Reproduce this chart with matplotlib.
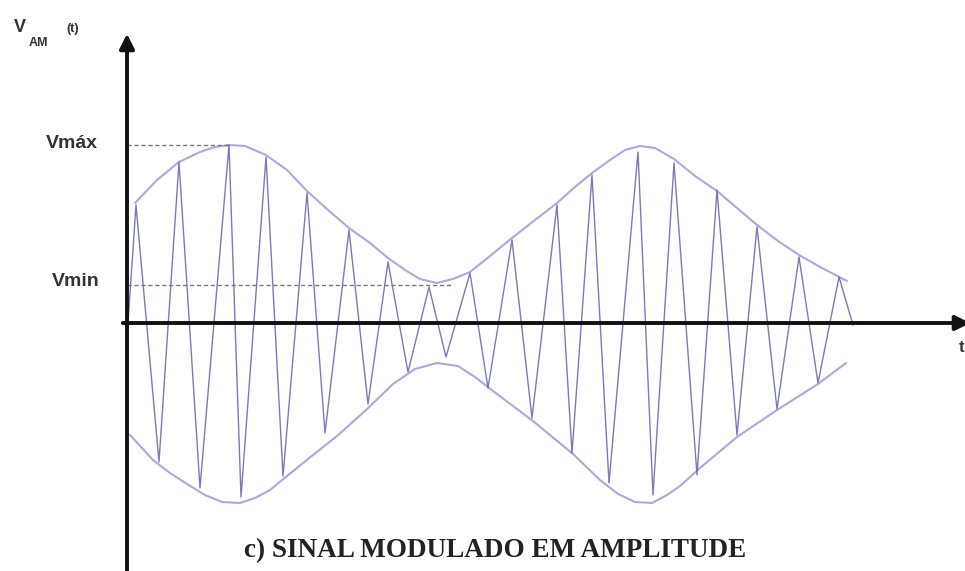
import numpy as np
import matplotlib.pyplot as plt

# Vértices da portadora (t, v); origem no cruzamento dos eixos
t_portadora = [1, 9, 32, 52, 73, 102, 114, 139, 156, 180, 198, 222, 241, 261, 281,
               302, 319, 343, 361, 385, 405, 430, 445, 465, 482, 511, 526, 547, 570,
               590, 610, 630, 650, 672, 691, 712, 726]
v_portadora = [0, 118, -139, 161, -165, 178, -174, 166, -153, 130, -110, 93, -81, 61, -49,
               36, -34, 50, -65, 83, -95, 118, -130, 148, -160, 171, -172, 160, -152,
               133, -112, 96, -86, 66, -60, 46, -2]

# Envoltória superior
t_env_sup = [8, 30, 52, 73, 88, 102, 118, 139, 160, 180, 201, 222, 243, 261, 278, 293,
             310, 326, 343, 363, 385, 408, 430, 448, 465, 483, 498, 513, 528, 547, 568,
             590, 610, 630, 651, 672, 695, 720]
v_env_sup = [120, 143, 161, 171, 176, 178, 177, 168, 153, 132, 113, 95, 80, 65, 53, 44,
             40, 44, 51, 67, 85, 103, 120, 136, 150, 163, 173, 177, 175, 164, 147,
             132, 115, 98, 82, 68, 55, 42]

# Envoltória inferior
t_env_inf = [3, 26, 43, 60, 78, 95, 113, 128, 143, 176, 210, 238, 266, 288, 310, 331,
             348, 366, 406, 446, 473, 491, 508, 525, 540, 553, 573, 610, 650, 691, 719]
v_env_inf = [-112, -137, -150, -161, -172, -179, -180, -175, -167, -140, -113, -88, -61,
             -46, -40, -43, -54, -68, -98, -131, -157, -171, -179, -180, -172, -163,
             -145, -114, -87, -61, -40]

# Níveis marcados
v_max = 178
v_min = 38
t_fim_vmax = 102
t_fim_vmin = 325

fig = plt.figure(figsize=(9.65, 5.71), dpi=100)
ax = fig.add_axes([0, 0, 1, 1])
ax.set_xlim(-127, 838)
ax.set_ylim(-248, 323)
ax.axis('off')

cor_portadora = '#6b6bb5'
cor_env = '#a9a9e6'

# Envoltórias
ax.plot(t_env_sup, v_env_sup, color=cor_env, lw=1.5, solid_capstyle='round')
ax.plot(t_env_inf, v_env_inf, color=cor_env, lw=1.5, solid_capstyle='round')

# Portadora modulada
ax.plot(t_portadora, v_portadora, color=cor_portadora, lw=1.0, alpha=0.9)

# Linhas tracejadas de Vmáx e Vmin
ax.plot([0, t_fim_vmax], [v_max, v_max], color='#777777', lw=1.0, ls=(0, (3, 2)))
ax.plot([0, t_fim_vmin], [v_min, v_min], color='#777777', lw=1.0, ls=(0, (3, 2)))

# Eixos com setas
ax.annotate('', xy=(0, 292), xytext=(0, -260), annotation_clip=False,
            arrowprops=dict(arrowstyle='-|>', lw=2.8, color='#111111', mutation_scale=22))
ax.annotate('', xy=(846, 0), xytext=(-7, 0), annotation_clip=False,
            arrowprops=dict(arrowstyle='-|>', lw=2.8, color='#111111', mutation_scale=22))

# Rótulos
fonte = ['Liberation Sans', 'DejaVu Sans']
ax.text(-113, 291, 'V', fontsize=13, fontweight='bold', color='#333333',
        family=fonte, ha='left', va='baseline')
ax.text(-98, 277, 'AM', fontsize=9, fontweight='bold', color='#333333',
        family=fonte, ha='left', va='baseline')
ax.text(-61, 291, '(t)', fontsize=9, fontweight='bold', color='#333333',
        family=fonte, ha='left', va='baseline')
ax.text(-29, v_max + 2, 'Vmáx', fontsize=14, fontweight='bold', color='#333333',
        family=fonte, ha='right', va='center')
ax.text(-27, v_min + 4, 'Vmin', fontsize=14, fontweight='bold', color='#333333',
        family=fonte, ha='right', va='center')
ax.text(837, -24, 't', fontsize=12, fontweight='bold', color='#333333',
        family=fonte, ha='right', va='center')

ax.text(368, -228, 'c) SINAL MODULADO EM AMPLITUDE', fontsize=19.5, fontweight='bold',
        color='#222222', family=['Liberation Serif', 'DejaVu Serif'],
        ha='center', va='center')

fig.savefig('out.png', dpi=100)
